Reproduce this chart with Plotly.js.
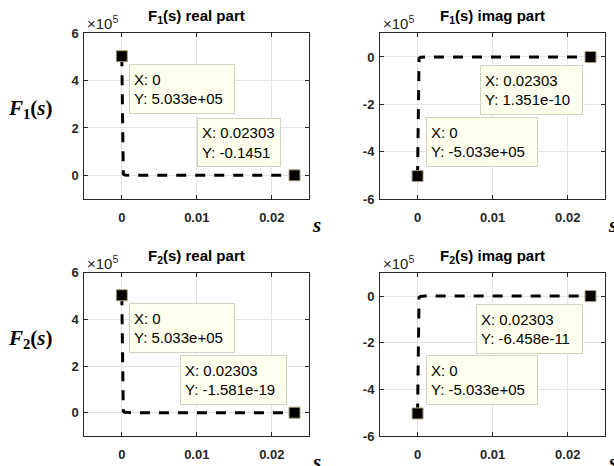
<!DOCTYPE html>
<html>
<head>
<meta charset="utf-8">
<script src="https://cdn.plot.ly/plotly-3.0.1.min.js"></script>
<style>html,body{margin:0;padding:0;background:#fff;}#chart{width:614px;height:466px;}</style>
</head>
<body>
<div id="chart"></div>
<script>
// ---- data ----
const s        = [0, 0.0001, 0.0002, 0.0004, 0.001, 0.003, 0.006, 0.01, 0.015, 0.02, 0.02303];
const F1real   = [503300, 30000, 6000, 1500, 250, 30, 7, 2.5, 1, 0.3, -0.1451];
const F1imag   = [-503300, -30000, -6000, -1500, -250, -30, -7, -2.5, -1, -0.3, 1.351e-10];
const F2real   = [503300, 30000, 6000, 1500, 250, 30, 7, 2.5, 1, 0.3, -1.581e-19];
const F2imag   = [-503300, -30000, -6000, -1500, -250, -30, -7, -2.5, -1, -0.3, -6.458e-11];

const panelTitles = ['F<sub>1</sub>(s) real part', 'F<sub>1</sub>(s) imag part',
                     'F<sub>2</sub>(s) real part', 'F<sub>2</sub>(s) imag part'];
const rowLabels = ['<b><i>F</i><sub>1</sub>(<i>s</i>)</b>', '<b><i>F</i><sub>2</sub>(<i>s</i>)</b>'];
const xLabel = '<b><i>s</i></b>';

const xTickVals = [0, 0.01, 0.02];
const xTickText = ['0', '0.01', '0.02'];
const yTickValsPos = [0, 2e5, 4e5, 6e5];
const yTickTextPos = ['0', '2', '4', '6'];
const yTickValsNeg = [-6e5, -4e5, -2e5, 0];
const yTickTextNeg = ['-6', '-4', '-2', '0'];

// data tip texts: [start tip, end tip] per panel
const tipStartX = ['0', '0', '0', '0'];
const tipStartY = ['5.033e+05', '-5.033e+05', '5.033e+05', '-5.033e+05'];
const tipEndX   = ['0.02303', '0.02303', '0.02303', '0.02303'];
const tipEndY   = ['-0.1451', '1.351e-10', '-1.581e-19', '-6.458e-11'];

// ---- layout geometry ----
const W = 614, H = 466;
const series = [F1real, F1imag, F2real, F2imag];
const xDom = [[84.3/W, 309.3/W], [380/W, 605.3/W]];
const yDom = [[1-199/H, 1-33.3/H], [1-436/H, 1-272.7/H]];

const traces = [];
const layout = {
  width: W, height: H,
  margin: {l:0, r:0, t:0, b:0},
  paper_bgcolor: '#ffffff', plot_bgcolor: '#ffffff',
  showlegend: false,
  annotations: []
};

const axisCommon = {
  showline: true, mirror: 'ticks', linecolor: '#262626', linewidth: 1,
  ticks: 'inside', ticklen: 4, tickcolor: '#262626', tickwidth: 1,
  showgrid: true, gridcolor: '#e3e3e3', gridwidth: 1,
  zeroline: false, fixedrange: true,
  tickfont: {family: 'Liberation Sans, Arial, sans-serif', size: 13, color: '#262626', weight: 'bold'}
};

// tip box geometry: [start tip, end tip] per panel
const tipGeom = [
  [{xa:'left', ya:'top', xs:7, ys:-8, w:106, h:50}, {xa:'right', ya:'bottom', xs:-14, ys:8, w:84, h:49}],
  [{xa:'left', ya:'bottom', xs:8, ys:9, w:112, h:50}, {xa:'right', ya:'top', xs:-8, ys:-8, w:103, h:50}],
  [{xa:'left', ya:'top', xs:7, ys:-8, w:106, h:50}, {xa:'right', ya:'bottom', xs:-8, ys:8, w:107, h:50}],
  [{xa:'left', ya:'bottom', xs:8, ys:8, w:112, h:50}, {xa:'right', ya:'top', xs:-8, ys:-8, w:107, h:50}]
];

for (let i = 0; i < 4; i++) {
  const row = Math.floor(i / 2), col = i % 2;
  const n = i + 1;
  const xa = n === 1 ? 'x' : 'x' + n;
  const ya = n === 1 ? 'y' : 'y' + n;
  const xkey = n === 1 ? 'xaxis' : 'xaxis' + n;
  const ykey = n === 1 ? 'yaxis' : 'yaxis' + n;
  const ys = series[i];
  const pos = col === 0;

  traces.push({
    x: s, y: ys, xaxis: xa, yaxis: ya, type: 'scatter', mode: 'lines',
    line: {color: '#000000', width: 3, dash: '10px,9px'}, hoverinfo: 'skip'
  });
  traces.push({
    x: [s[0], s[s.length-1]], y: [ys[0], ys[ys.length-1]], xaxis: xa, yaxis: ya,
    type: 'scatter', mode: 'markers',
    marker: {symbol: 'square', size: 11, color: '#000000', line: {color: '#a9a27c', width: 1}},
    hoverinfo: 'skip'
  });

  layout[xkey] = Object.assign({}, axisCommon, {
    domain: xDom[col], anchor: ya, range: [-0.005, 0.025],
    tickmode: 'array', tickvals: xTickVals, ticktext: xTickText, ticklabelstandoff: 6
  });
  layout[ykey] = Object.assign({}, axisCommon, {
    domain: yDom[row], anchor: xa, range: pos ? [-1e5, 6e5] : [-6e5, 1e5],
    tickmode: 'array', tickvals: pos ? yTickValsPos : yTickValsNeg,
    ticktext: pos ? yTickTextPos : yTickTextNeg, ticklabelstandoff: 2
  });

  // title
  layout.annotations.push({
    text: '<b>' + panelTitles[i] + '</b>', xref: xa + ' domain', yref: ya + ' domain',
    x: 0.5, y: 1, xanchor: 'center', yanchor: 'bottom', yshift: 5, showarrow: false,
    font: {family: 'Liberation Sans, Arial, sans-serif', size: 15, color: '#000000'}
  });
  // exponent label
  layout.annotations.push({
    text: '\u00d710<sup>5</sup>', xref: xa + ' domain', yref: ya + ' domain',
    x: 0, y: 1, xanchor: 'left', yanchor: 'bottom', xshift: 1, yshift: -1, showarrow: false,
    font: {family: 'Liberation Sans, Arial, sans-serif', size: 15, color: '#262626'}
  });
  // x label
  layout.annotations.push({
    text: xLabel, xref: xa + ' domain', yref: ya + ' domain',
    x: 1, y: 0, xanchor: 'center', yanchor: 'middle', xshift: 7, yshift: -26, showarrow: false,
    font: {family: 'Liberation Serif, Times New Roman, serif', size: 21, color: '#000000'}
  });

  // data tips
  const tips = [
    {x: s[0], y: ys[0], t: 'X: ' + tipStartX[i] + '<br>Y: ' + tipStartY[i], g: tipGeom[i][0]},
    {x: s[s.length-1], y: ys[ys.length-1], t: 'X: ' + tipEndX[i] + '<br>Y: ' + tipEndY[i], g: tipGeom[i][1]}
  ];
  tips.forEach(tp => {
    layout.annotations.push({
      text: tp.t, xref: xa, yref: ya, x: tp.x, y: tp.y, showarrow: false,
      xanchor: tp.g.xa, yanchor: tp.g.ya, xshift: tp.g.xs, yshift: tp.g.ys,
      width: tp.g.w - 10, height: tp.g.h - 10, align: 'left', valign: 'middle',
      bgcolor: '#ffffee', bordercolor: '#d2d2c2', borderwidth: 1, borderpad: 4,
      font: {family: 'Liberation Sans, Arial, sans-serif', size: 15, color: '#000000'}
    });
  });
}

// row labels
const rowLabelY = [109, 339];
for (let r = 0; r < 2; r++) {
  layout.annotations.push({
    text: rowLabels[r], xref: 'paper', yref: 'paper', x: 30.5 / W, y: 1 - rowLabelY[r] / H,
    xanchor: 'center', yanchor: 'middle', showarrow: false,
    font: {family: 'Liberation Serif, Times New Roman, serif', size: 21, color: '#000000'}
  });
}

Plotly.newPlot('chart', traces, layout, {displayModeBar: false, staticPlot: true});
</script>
</body>
</html>
